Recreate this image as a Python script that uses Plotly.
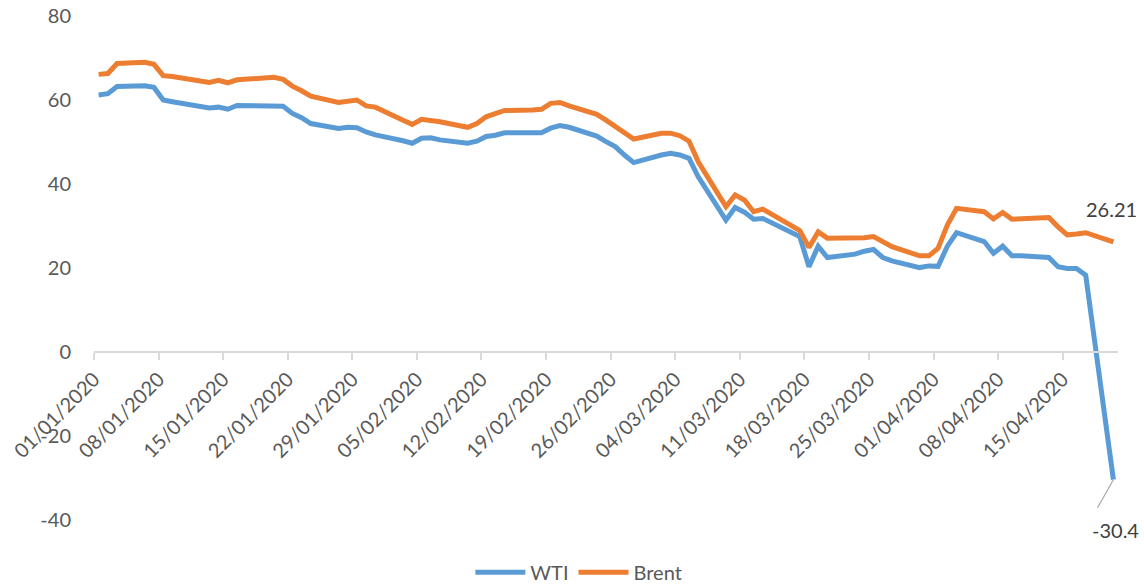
import pandas as pd
import plotly.graph_objects as go

dates = [
    "2020-01-01", "2020-01-02", "2020-01-03", "2020-01-06", "2020-01-07", "2020-01-08",
    "2020-01-09", "2020-01-10", "2020-01-13", "2020-01-14", "2020-01-15", "2020-01-16",
    "2020-01-17", "2020-01-20", "2020-01-21", "2020-01-22", "2020-01-23", "2020-01-24",
    "2020-01-27", "2020-01-28", "2020-01-29", "2020-01-30", "2020-01-31",
    "2020-02-03", "2020-02-04", "2020-02-05", "2020-02-06", "2020-02-07",
    "2020-02-10", "2020-02-11", "2020-02-12", "2020-02-13", "2020-02-14",
    "2020-02-17", "2020-02-18", "2020-02-19", "2020-02-20", "2020-02-21",
    "2020-02-24", "2020-02-25", "2020-02-26", "2020-02-27", "2020-02-28",
    "2020-03-02", "2020-03-03", "2020-03-04", "2020-03-05", "2020-03-06",
    "2020-03-09", "2020-03-10", "2020-03-11", "2020-03-12", "2020-03-13",
    "2020-03-16", "2020-03-17", "2020-03-18", "2020-03-19", "2020-03-20",
    "2020-03-23", "2020-03-24", "2020-03-25", "2020-03-26", "2020-03-27",
    "2020-03-30", "2020-03-31", "2020-04-01", "2020-04-02", "2020-04-03",
    "2020-04-06", "2020-04-07", "2020-04-08", "2020-04-09", "2020-04-10",
    "2020-04-13", "2020-04-14", "2020-04-15", "2020-04-16", "2020-04-17",
    "2020-04-20",
]

wti = [
    61.2, 61.5, 63.2, 63.4, 63.0, 60.0,
    59.6, 59.2, 58.1, 58.3, 57.8, 58.7,
    58.7, 58.7, 58.5, 56.8, 55.8, 54.4,
    53.2, 53.5, 53.4, 52.4, 51.7,
    50.3, 49.7, 50.9, 51.0, 50.5,
    49.7, 50.2, 51.3, 51.6, 52.2,
    52.2, 52.2, 53.3, 53.9, 53.5,
    51.4, 50.1, 48.9, 46.9, 45.1,
    46.9, 47.3, 46.9, 46.1, 41.7,
    31.4, 34.4, 33.3, 31.6, 31.8,
    28.6, 27.5, 20.3, 25.2, 22.5,
    23.3, 24.0, 24.4, 22.5, 21.7,
    20.1, 20.5, 20.4, 25.2, 28.4,
    26.3, 23.5, 25.2, 22.9, 22.9,
    22.5, 20.3, 19.9, 19.9, 18.3,
    -30.4,
]

brent = [
    66.1, 66.3, 68.7, 69.0, 68.5, 65.8,
    65.6, 65.2, 64.2, 64.7, 64.1, 64.8,
    65.0, 65.4, 64.9, 63.3, 62.2, 60.9,
    59.4, 59.8, 60.0, 58.6, 58.3,
    55.2, 54.2, 55.4, 55.2, 54.8,
    53.5, 54.4, 56.0, 56.6, 57.5,
    57.6, 57.8, 59.2, 59.4, 58.6,
    56.6, 55.2, 53.6, 52.3, 50.7,
    52.1, 52.1, 51.5, 50.2, 45.3,
    34.6, 37.4, 36.2, 33.4, 34.0,
    30.2, 28.9, 24.9, 28.6, 27.1,
    27.1, 27.2, 27.5, 26.3, 25.1,
    22.9, 22.9, 24.7, 30.2, 34.2,
    33.4, 31.7, 33.2, 31.6, 31.7,
    32.0, 29.8, 27.9, 28.1, 28.4,
    26.21,
]

series_names = ["WTI", "Brent"]
colors = ["#5B9BD5", "#ED7D31"]

y_tickvals = [-40, -20, 0, 20, 40, 60, 80]
y_ticktext = ["-40", "-20", "0", "20", "40", "60", "80"]

# Excel date axis places points in the middle of each day unit
x = pd.to_datetime(dates) + pd.Timedelta(hours=12)

FONT = "Lato"
TXT = "#595959"

fig = go.Figure()
for name, vals, col in zip(series_names, [wti, brent], colors):
    fig.add_trace(go.Scatter(
        x=x, y=vals, mode="lines", name=name,
        line=dict(color=col, width=5, shape="linear"),
    ))

last_x = x[-1]
fig.add_annotation(x=last_x, y=brent[-1], text=f"{brent[-1]:.2f}", showarrow=False,
                   xshift=-2, yshift=33, font=dict(family=FONT, size=20, color="#404040"))
fig.add_annotation(x=last_x, y=wti[-1], text=" ", showarrow=True, arrowhead=0,
                   arrowwidth=1.2, arrowcolor="#a6a6a6", ax=-17, ay=30,
                   font=dict(size=1))
fig.add_annotation(x=last_x, y=wti[-1], text=f"{wti[-1]:.1f}", showarrow=False,
                   xshift=2, yshift=-50, font=dict(family=FONT, size=20, color="#404040"))

fig.update_layout(
    width=1144, height=585,
    margin=dict(l=94, r=26, t=16, b=65, autoexpand=False),
    paper_bgcolor="white", plot_bgcolor="white",
    font=dict(family=FONT, size=20, color=TXT),
    showlegend=True,
    legend=dict(orientation="h", xref="container", yref="container",
                x=0.506, xanchor="center", y=0.022, yanchor="middle",
                font=dict(family=FONT, size=20, color=TXT),
                itemwidth=50, traceorder="normal"),
    xaxis=dict(
        type="date", automargin=False,
        range=["2020-01-01", "2020-04-21"],
        tick0="2020-01-01", dtick=7 * 86400000,
        tickformat="%d/%m/%Y", tickangle=-45,
        anchor="free", position=1 / 3,
        showline=True, linecolor="#d9d9d9", linewidth=1.5,
        ticks="outside", ticklen=7, tickcolor="#d9d9d9", tickwidth=1.5,
        showgrid=False, zeroline=False,
        tickfont=dict(family=FONT, size=20, color=TXT),
    ),
    yaxis=dict(
        range=[-40, 80], tickmode="array", tickvals=y_tickvals, ticktext=y_ticktext,
        automargin=False,
        showgrid=False, zeroline=False, showline=False, ticks="",
        ticklabelstandoff=22,
        tickfont=dict(family=FONT, size=20, color=TXT),
    ),
)

fig.write_html(
    "out.html",
    config={"displayModeBar": False},
    post_script="document.body.style.margin='0';document.body.style.padding='0';document.body.style.overflow='hidden';",
)
